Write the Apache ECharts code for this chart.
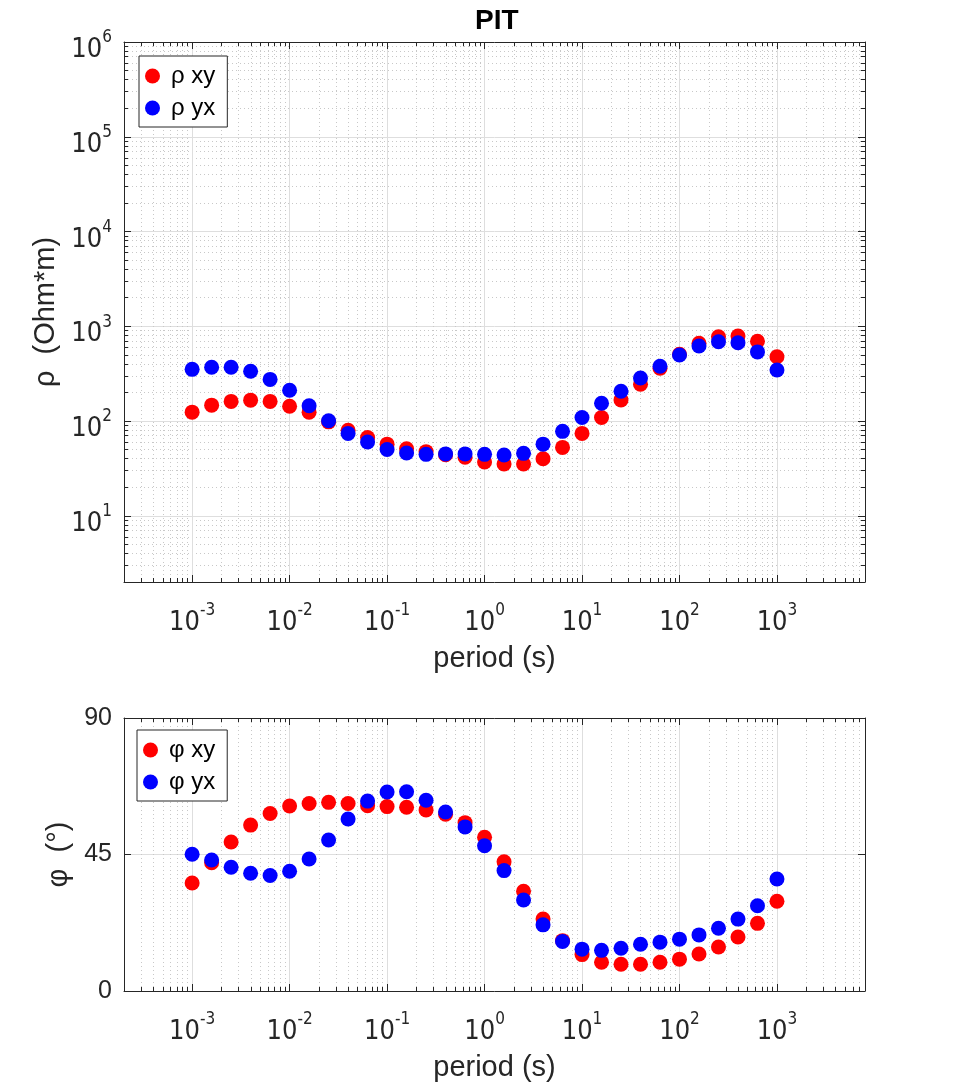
<!DOCTYPE html>
<html>
<head>
<meta charset="utf-8">
<title>PIT</title>
<script src="https://cdn.jsdelivr.net/npm/echarts@6.0.0/dist/echarts.min.js"></script>
<style>
  html, body { margin: 0; padding: 0; background: #fff; }
  #main { width: 957px; height: 1088px; }
</style>
</head>
<body>
<div id="main"></div>
<script>
// periods (s), 5 per decade
const periods = [0.001, 0.001585, 0.002512, 0.003981, 0.00631,
  0.01, 0.01585, 0.02512, 0.03981, 0.0631,
  0.1, 0.1585, 0.2512, 0.3981, 0.631,
  1, 1.585, 2.512, 3.981, 6.31,
  10, 15.85, 25.12, 39.81, 63.1,
  100, 158.5, 251.2, 398.1, 631, 1000]

// apparent resistivity (Ohm*m)
const rhoXY = [124, 147, 161, 166, 161, 143, 124, 98, 80, 67, 57, 51, 47.5, 44, 41.4, 37,
  35.2, 35.2, 40, 52.7, 74, 109, 167, 244, 360, 506, 661, 776, 790, 695, 477]
const rhoYX = [351, 369, 369, 335, 275, 211, 145, 100.7, 74, 60, 50, 46, 44.5, 45, 45, 44.5,
  43.8, 45.6, 57, 77.8, 109, 154, 206, 284, 378, 498, 620, 687, 671, 536, 346]

// phase (deg)
const phiXY = [35.6, 42.3, 49.1, 54.7, 58.5, 61.0, 61.8, 62.2, 61.8, 61.1, 60.8, 60.6, 59.7, 58.3, 55.5, 50.7,
  42.6, 32.9, 23.7, 16.6, 12.0, 9.5, 8.8, 8.8, 9.5, 10.5, 12.2, 14.5, 17.8, 22.3, 29.6]
const phiYX = [45.1, 43.2, 40.8, 38.8, 38.1, 39.5, 43.5, 49.8, 56.7, 62.6, 65.6, 65.7, 62.9, 59.0, 54.1, 47.9,
  39.7, 30.0, 21.8, 16.3, 13.8, 13.4, 14.1, 15.4, 16.1, 17.1, 18.5, 20.7, 23.7, 28.1, 36.9]

// ticks
const periodTicks = [0.001, 0.01, 0.1, 1, 10, 100, 1000]
const rhoTicks = [10, 100, 1000, 10000, 100000, 1000000]
const phiTicks = [0, 45, 90]
const periodRange = [0.0002, 8000]
const rhoRange = [2, 1000000]
const phiRange = [0, 90]

const AX = '#262626'
const FONT = '"Liberation Sans", Arial, sans-serif'
const NARROW = '"Liberation Sans Narrow", "DejaVu Sans Condensed", "Liberation Sans", sans-serif'

// minor log ticks 2..9 x 10^n inside range
const minorValues = (lo, hi) => {
  const out = []
  for (let e = Math.floor(Math.log10(lo)); e <= Math.ceil(Math.log10(hi)); e++) {
    for (let m = 2; m <= 9; m++) {
      const v = m * Math.pow(10, e)
      if (v > lo * 1.0001 && v < hi * 0.9999) out.push(v)
    }
  }
  return out
}

const powLabel = {
  formatter: v => '{b|10}{s|' + Math.round(Math.log10(v)) + '}',
  rich: {
    b: { fontSize: 27, fontFamily: NARROW, color: AX, lineHeight: 34, verticalAlign: 'bottom' },
    s: { fontSize: 17, fontFamily: NARROW, color: AX, lineHeight: 14, verticalAlign: 'top' }
  }
}

// one log period axis set (bottom major/minor, top major/minor) per grid
const periodAxes = (gi) => {
  const base = { gridIndex: gi, type: 'log', logBase: 10, min: periodRange[0], max: periodRange[1] }
  const minor = minorValues(periodRange[0], periodRange[1])
  return [
    Object.assign({}, base, {
      position: 'bottom',
      name: 'period (s)', nameLocation: 'middle', nameGap: 62,
      nameTextStyle: { fontSize: 29, fontFamily: FONT, color: AX },
      axisLine: { show: true, lineStyle: { color: AX, width: 1 } },
      axisTick: { show: true, inside: true, length: 7, customValues: periodTicks, lineStyle: { color: AX } },
      axisLabel: Object.assign({ show: true, margin: 20, customValues: periodTicks }, powLabel),
      splitLine: { show: true, lineStyle: { color: '#dedede', width: 1 } }
    }),
    Object.assign({}, base, {
      position: 'bottom',
      axisLine: { show: false },
      axisTick: { show: true, inside: true, length: 4, customValues: minor, lineStyle: { color: AX } },
      axisLabel: { show: false },
      splitLine: { show: true, lineStyle: { color: '#c8c8c8', width: 1, type: [1, 3] } }
    }),
    Object.assign({}, base, {
      position: 'top',
      axisLine: { show: true, lineStyle: { color: AX, width: 1 } },
      axisTick: { show: true, inside: true, length: 7, customValues: periodTicks, lineStyle: { color: AX } },
      axisLabel: { show: false },
      splitLine: { show: false }
    }),
    Object.assign({}, base, {
      position: 'top',
      axisLine: { show: false },
      axisTick: { show: true, inside: true, length: 4, customValues: minor, lineStyle: { color: AX } },
      axisLabel: { show: false },
      splitLine: { show: false }
    })
  ]
}

const rhoBase = { gridIndex: 0, type: 'log', logBase: 10, min: rhoRange[0], max: rhoRange[1] }
const rhoMinor = minorValues(rhoRange[0], rhoRange[1])
const rhoAxes = [
  Object.assign({}, rhoBase, {
    position: 'left',
    name: 'ρ  (Ohm*m)', nameLocation: 'middle', nameGap: 60,
    nameTextStyle: { fontSize: 29, fontFamily: FONT, color: AX },
    axisLine: { show: true, lineStyle: { color: AX, width: 1 } },
    axisTick: { show: true, inside: true, length: 7, customValues: rhoTicks, lineStyle: { color: AX } },
    axisLabel: Object.assign({ show: true, margin: 12, customValues: rhoTicks, padding: [9, 0, 0, 0] }, powLabel),
    splitLine: { show: true, lineStyle: { color: '#dedede', width: 1 } }
  }),
  Object.assign({}, rhoBase, {
    position: 'left',
    axisLine: { show: false },
    axisTick: { show: true, inside: true, length: 4, customValues: rhoMinor, lineStyle: { color: AX } },
    axisLabel: { show: false },
    splitLine: { show: true, lineStyle: { color: '#c8c8c8', width: 1, type: [1, 3] } }
  }),
  Object.assign({}, rhoBase, {
    position: 'right',
    axisLine: { show: true, lineStyle: { color: AX, width: 1 } },
    axisTick: { show: true, inside: true, length: 7, customValues: rhoTicks, lineStyle: { color: AX } },
    axisLabel: { show: false },
    splitLine: { show: false }
  }),
  Object.assign({}, rhoBase, {
    position: 'right',
    axisLine: { show: false },
    axisTick: { show: true, inside: true, length: 4, customValues: rhoMinor, lineStyle: { color: AX } },
    axisLabel: { show: false },
    splitLine: { show: false }
  })
]

const phiBase = { gridIndex: 1, type: 'value', min: phiRange[0], max: phiRange[1], interval: 45 }
const phiAxes = [
  Object.assign({}, phiBase, {
    position: 'left',
    name: 'φ  (°)', nameLocation: 'middle', nameGap: 48,
    nameTextStyle: { fontSize: 29, fontFamily: FONT, color: AX },
    axisLine: { show: true, lineStyle: { color: AX, width: 1 } },
    axisTick: { show: true, inside: true, length: 7, lineStyle: { color: AX } },
    axisLabel: { show: true, margin: 12, fontSize: 25, fontFamily: FONT, color: AX, customValues: phiTicks },
    splitLine: { show: true, lineStyle: { color: '#dedede', width: 1 } }
  }),
  Object.assign({}, phiBase, {
    position: 'right',
    axisLine: { show: true, lineStyle: { color: AX, width: 1 } },
    axisTick: { show: true, inside: true, length: 7, lineStyle: { color: AX } },
    axisLabel: { show: false },
    splitLine: { show: false }
  })
]

const legendBox = (left, top, names) => ({
  left: left, top: top, orient: 'vertical',
  data: names,
  backgroundColor: '#fff',
  borderColor: '#262626', borderWidth: 1, borderRadius: 0,
  padding: [8, 12, 7, 6],
  itemWidth: 27, itemHeight: 15, itemGap: 8,
  icon: 'circle',
  textStyle: { fontSize: 24, lineHeight: 24, fontFamily: FONT, color: '#000' },
  selectedMode: false
})

const scatter = (name, xi, yi, color, ys) => ({
  name: name, type: 'scatter', xAxisIndex: xi, yAxisIndex: yi,
  symbol: 'circle', symbolSize: 15,
  itemStyle: { color: color, opacity: 1 },
  data: periods.map((p, i) => [p, ys[i]])
})

const chart = echarts.init(document.getElementById('main'), null, { renderer: 'canvas' })
chart.setOption({
  animation: false,
  backgroundColor: '#fff',
  title: {
    text: 'PIT', left: 470, top: 2,
    textStyle: { fontSize: 28, fontWeight: 'bold', fontFamily: FONT, color: '#000' }
  },
  grid: [
    { left: 124, top: 42, width: 741, height: 540, outerBoundsMode: 'none' },
    { left: 124, top: 718, width: 741, height: 273, outerBoundsMode: 'none' }
  ],
  legend: [
    legendBox(139, 56, ['ρ xy', 'ρ yx']),
    legendBox(137, 730, ['φ xy', 'φ yx'])
  ],
  xAxis: periodAxes(0).concat(periodAxes(1)),
  yAxis: rhoAxes.concat(phiAxes),
  series: [
    scatter('ρ xy', 0, 0, '#ff0000', rhoXY),
    scatter('ρ yx', 0, 0, '#0000ff', rhoYX),
    scatter('φ xy', 4, 4, '#ff0000', phiXY),
    scatter('φ yx', 4, 4, '#0000ff', phiYX)
  ]
})
</script>
</body>
</html>
